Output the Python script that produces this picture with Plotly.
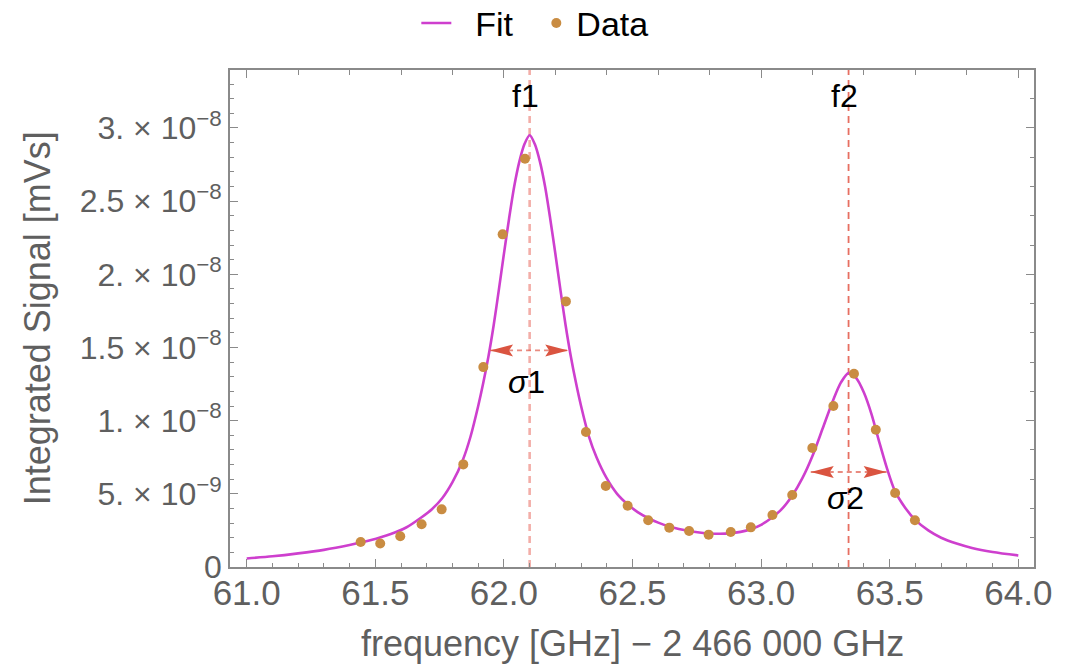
import plotly.graph_objects as go

SCALE = 1e-9  # values below are in units of 1e-9 mVs

# Measured data points
data_freq = [61.443, 61.519, 61.597, 61.680, 61.758, 61.842, 61.920, 61.995, 62.082,
             62.241, 62.319, 62.396, 62.481, 62.561, 62.643, 62.720, 62.796, 62.882,
             62.960, 63.044, 63.121, 63.199, 63.281, 63.361, 63.446, 63.521, 63.598]
data_signal = [1.71, 1.60, 2.10, 2.92, 3.94, 7.01, 13.66, 22.73, 27.90,
               18.15, 9.22, 5.53, 4.19, 3.19, 2.69, 2.46, 2.21, 2.39,
               2.71, 3.55, 4.92, 8.13, 11.00, 13.21, 9.38, 5.06, 3.19]

# Fit curve
fit_freq = [61.00, 61.10, 61.20, 61.30, 61.40, 61.48, 61.56, 61.62, 61.68, 61.72,
            61.76, 61.80, 61.84, 61.87, 61.90, 61.92, 61.94, 61.96, 61.98, 62.00,
            62.02, 62.04, 62.06, 62.08, 62.10, 62.12, 62.14, 62.16, 62.18, 62.20,
            62.22, 62.24, 62.26, 62.28, 62.30, 62.33, 62.36, 62.40, 62.44, 62.48,
            62.52, 62.56, 62.60, 62.64, 62.68, 62.72, 62.76, 62.80, 62.84, 62.88,
            62.92, 62.96, 63.00, 63.04, 63.08, 63.12, 63.16, 63.20, 63.24, 63.28,
            63.31, 63.34, 63.37, 63.40, 63.43, 63.46, 63.49, 63.52, 63.56, 63.60,
            63.65, 63.70, 63.76, 63.82, 63.90, 64.00]
fit_signal = [0.58, 0.73, 0.93, 1.17, 1.50, 1.82, 2.25, 2.70, 3.40, 3.95,
              4.70, 5.80, 7.30, 8.90, 11.0, 12.6, 14.4, 16.5, 18.9, 21.4,
              23.8, 26.0, 27.7, 28.9, 29.5, 28.9, 27.7, 26.0, 23.8, 21.4,
              18.9, 16.5, 14.4, 12.6, 11.0, 8.95, 7.50, 6.05, 5.00, 4.30,
              3.75, 3.35, 3.03, 2.78, 2.60, 2.46, 2.36, 2.29, 2.27, 2.30,
              2.40, 2.58, 2.88, 3.35, 3.95, 4.85, 6.05, 7.60, 9.50, 11.4,
              12.6, 13.25, 12.9, 11.9, 10.4, 8.5, 6.7, 5.2, 4.05, 3.2,
              2.5, 2.0, 1.6, 1.3, 1.03, 0.79]

# Peak annotations
peak_labels = ["f1", "f2"]
peak_centers = [62.10, 63.34]
width_labels = ["<i>σ</i>1", "<i>σ</i>2"]
width_left = [61.946, 63.193]
width_right = [62.250, 63.488]
width_level = [14.8, 6.49]
width_label_pos = [12.3, 4.4]
peak_label_level = 31.8

x_ticks = [61.0, 61.5, 62.0, 62.5, 63.0, 63.5, 64.0]
y_tickvals = [0, 5, 10, 15, 20, 25, 30]
y_ticktext = ["0", "5. × 10<sup>−9</sup>", "1. × 10<sup>−8</sup>", "1.5 × 10<sup>−8</sup>",
              "2. × 10<sup>−8</sup>", "2.5 × 10<sup>−8</sup>", "3. × 10<sup>−8</sup>"]

FONT = "Liberation Sans, Arial, sans-serif"
XR = [60.935, 64.061]
YR = [0, 33.96 * SCALE]
AX = "#8a8a8a"
TXT = "#5f5f5f"
NB = "\u00a0"

fig = go.Figure()
fig.add_trace(go.Scatter(x=fit_freq, y=[v * SCALE for v in fit_signal], mode="lines",
                         name=NB * 2 + "Fit", line=dict(color="#CE3FCE", width=2.6, shape="spline", smoothing=0.8)))
fig.add_trace(go.Scatter(x=data_freq, y=[v * SCALE for v in data_signal], mode="markers",
                         name="Data", marker=dict(color="#C98C42", size=10)))
fig.add_trace(go.Scatter(x=[None], y=[None], xaxis="x2", yaxis="y2", showlegend=False,
                         hoverinfo="skip"))

shapes = []
annotations = []
line_styles = [dict(color="rgba(235,120,110,0.6)", width=2.6), dict(color="rgba(228,95,80,0.9)", width=1.8)]
for i in range(2):
    c = peak_centers[i]
    shapes.append(dict(type="line", xref="x", yref="paper", x0=c, x1=c, y0=0, y1=1,
                       line=dict(color=line_styles[i]["color"], width=line_styles[i]["width"], dash="7px,5px"),
                       layer="below"))
    yl = width_level[i] * SCALE
    shapes.append(dict(type="line", xref="x", yref="y", x0=width_left[i], x1=width_right[i], y0=yl, y1=yl,
                       line=dict(color="rgba(225,100,85,0.75)", width=1.8, dash="5px,4px")))
    shapes.append(dict(type="path", xref="x", yref="y", xsizemode="pixel", ysizemode="pixel",
                       xanchor=width_left[i], yanchor=yl,
                       path="M0,0 L23,6 L19,0 L23,-6 Z", fillcolor="#DA5440", line=dict(width=0)))
    shapes.append(dict(type="path", xref="x", yref="y", xsizemode="pixel", ysizemode="pixel",
                       xanchor=width_right[i], yanchor=yl,
                       path="M0,0 L-23,6 L-19,0 L-23,-6 Z", fillcolor="#DA5440", line=dict(width=0)))
    annotations.append(dict(x=c, y=peak_label_level * SCALE, xref="x", yref="y", text=peak_labels[i],
                            showarrow=False, xshift=-4, yshift=6,
                            font=dict(family=FONT, size=32, color="black")))
    annotations.append(dict(x=c, y=width_label_pos[i] * SCALE, xref="x", yref="y", text=width_labels[i],
                            showarrow=False, xshift=-3, yshift=5,
                            font=dict(family=FONT, size=32, color="black")))

annotations.append(dict(x=0.5, y=-0.1535, xref="paper", yref="paper", xanchor="center", yanchor="middle",
                        text="frequency [GHz] − 2 466 000 GHz", showarrow=False,
                        font=dict(family=FONT, size=36, color=TXT)))
annotations.append(dict(x=-0.239, y=0.5, xref="paper", yref="paper", xanchor="center", yanchor="middle",
                        textangle=-90, text="Integrated Signal [mVs]", showarrow=False,
                        font=dict(family=FONT, size=36, color=TXT)))

fig.update_layout(
    width=1076, height=666,
    margin=dict(l=230, r=42, t=70, b=99, autoexpand=False),
    paper_bgcolor="white", plot_bgcolor="white",
    font=dict(family=FONT),
    showlegend=True,
    legend=dict(orientation="h", x=0.381, xanchor="center", y=1.152, yanchor="top",
                entrywidth=75, entrywidthmode="pixels",
                font=dict(family=FONT, size=34, color="black"), bgcolor="rgba(0,0,0,0)"),
    shapes=shapes, annotations=annotations,
    xaxis=dict(range=XR, tickvals=x_ticks, ticktext=[f"{v:.1f}" for v in x_ticks],
               ticks="inside", ticklen=8, tickwidth=1.3, tickcolor=AX,
               minor=dict(dtick=0.1, tick0=61.0, ticks="inside", ticklen=4.5, tickwidth=1, tickcolor=AX),
               showline=True, linecolor=AX, linewidth=1.6, mirror=True,
               showgrid=False, zeroline=False, ticklabelstandoff=-6,
               tickfont=dict(family=FONT, size=35, color=TXT)),
    yaxis=dict(range=YR, tickvals=[v * SCALE for v in y_tickvals], ticktext=y_ticktext,
               ticks="inside", ticklen=8, tickwidth=1.3, tickcolor=AX,
               minor=dict(dtick=1 * SCALE, tick0=0, ticks="inside", ticklen=4.5, tickwidth=1, tickcolor=AX),
               showline=True, linecolor=AX, linewidth=1.6, mirror=True,
               showgrid=False, zeroline=False, ticklabelstandoff=0,
               tickfont=dict(family=FONT, size=32, color=TXT)),
    xaxis2=dict(range=XR, overlaying="x", side="top", anchor="y2", dtick=1, tick0=61.0,
                ticks="inside", ticklen=8, tickwidth=1.3, tickcolor=AX,
                minor=dict(dtick=0.2, tick0=61.0, ticks="inside", ticklen=4.5, tickwidth=1, tickcolor=AX),
                showticklabels=False, showline=False, showgrid=False, zeroline=False),
    yaxis2=dict(range=YR, overlaying="y", side="right", anchor="x2", dtick=10 * SCALE, tick0=0,
                ticks="inside", ticklen=8, tickwidth=1.3, tickcolor=AX,
                minor=dict(dtick=2 * SCALE, tick0=0, ticks="inside", ticklen=4.5, tickwidth=1, tickcolor=AX),
                showticklabels=False, showline=False, showgrid=False, zeroline=False),
)

fig.write_html("out.html")
